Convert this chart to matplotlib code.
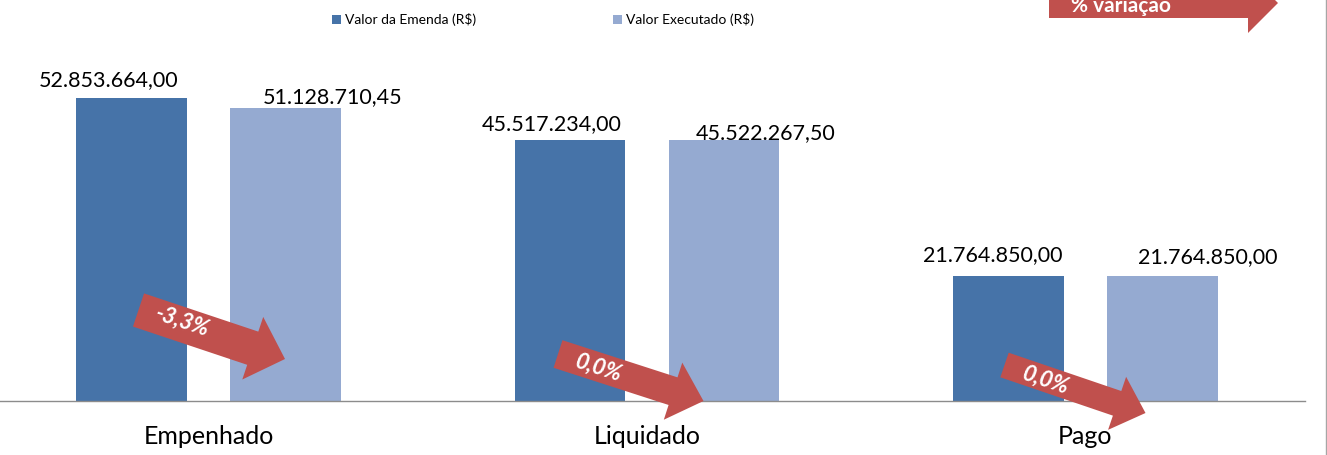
import matplotlib
matplotlib.use("Agg")
import matplotlib.pyplot as plt
from matplotlib.patches import Polygon, Patch
from matplotlib.lines import Line2D
import numpy as np

# ---------------- data ----------------
categories = ["Empenhado", "Liquidado", "Pago"]
valor_emenda = [52853664.00, 45517234.00, 21764850.00]
valor_executado = [51128710.45, 45522267.50, 21764850.00]
variacao_labels = ["-3,3%", "0,0%", "0,0%"]
series_names = ["Valor da Emenda (R$)", "Valor Executado (R$)"]

# ---------------- styles ----------------
W, H = 1327, 455
DARK = "#4673A8"
LIGHT = "#95AAD1"
RED = "#C0504D"
FONT = ["Lato", "DejaVu Sans"]
plt.rcParams["font.family"] = FONT


def fmt_br(v):
    s = f"{v:,.2f}"
    return s.replace(",", "X").replace(".", ",").replace("X", ".")


fig = plt.figure(figsize=(W / 100, H / 100), dpi=100)
ax_left_px, ax_right_px = -10.75, 1304.75
ax_bottom_px = H - 401
ax = fig.add_axes([ax_left_px / W, ax_bottom_px / H,
                   (ax_right_px - ax_left_px) / W, 401 / H])
ax.set_xlim(-0.5, 2.5)
ax.set_ylim(0, 70e6)

x = np.arange(len(categories))
bw = 0.253
off = 0.1756
b1 = ax.bar(x - off, valor_emenda, bw, color=DARK, label=series_names[0])
b2 = ax.bar(x + off, valor_executado, bw, color=LIGHT, label=series_names[1])

for s in ["top", "left", "right"]:
    ax.spines[s].set_visible(False)
ax.spines["bottom"].set_color("#8C8C8C")
ax.spines["bottom"].set_linewidth(1.0)
ax.set_yticks([])
ax.set_xticks(x)
ax.set_xticklabels(categories, fontsize=18, color="black")
ax.tick_params(axis="x", length=0, pad=17)

# value labels (pixel offsets from bar top centre)
dark_off = [(-23, 12), (-18, 10), (-16, 15)]
light_off = [(47, 5), (42, 1), (45, 13)]
for i in range(len(categories)):
    ax.annotate(fmt_br(valor_emenda[i]), (x[i] - off, valor_emenda[i]),
                xytext=dark_off[i], textcoords="offset pixels",
                ha="center", va="baseline", fontsize=15.5)
    ax.annotate(fmt_br(valor_executado[i]), (x[i] + off, valor_executado[i]),
                xytext=light_off[i], textcoords="offset pixels",
                ha="center", va="baseline", fontsize=15.5)

# ---------------- arrows ----------------
def arrow_poly(tail, tip, shaft_w, head_w, head_len):
    tail = np.array(tail, float)
    tip = np.array(tip, float)
    d = tip - tail
    L = np.hypot(*d)
    u = d / L
    n = np.array([-u[1], u[0]])
    base = tip - u * head_len
    pts = [tail + n * shaft_w / 2, base + n * shaft_w / 2, base + n * head_w / 2,
           tip, base - n * head_w / 2, base - n * shaft_w / 2, tail - n * shaft_w / 2]
    return np.array(pts)


# relative to group centre at baseline, in pixels (y up)
arrow_geo = [
    dict(tail=(-70, 91), tip=(76.5, 42), sw=35, hw=66, hl=34, txt=(-25.5, 79)),
    dict(tail=(-89, 47), tip=(56.5, 0), sw=29, hw=60, hl=32, txt=(-48, 33)),
    dict(tail=(-81, 36), tip=(60, -12), sw=26, hw=56, hl=30, txt=(-40, 21)),
]
pix = matplotlib.transforms.IdentityTransform()
for i, g in enumerate(arrow_geo):
    ax_px = ax.transData.transform((x[i], 0))
    tail = ax_px + np.array(g["tail"])
    tip = ax_px + np.array(g["tip"])
    poly = arrow_poly(tail, tip, g["sw"], g["hw"], g["hl"])
    fig.patches.append(Polygon(poly, closed=True, transform=pix,
                               facecolor=RED, edgecolor="none", zorder=5))
    d = tip - tail
    ang = np.degrees(np.arctan2(d[1], d[0]))
    tp = ax_px + np.array(g["txt"])
    fig.text(tp[0] / W, tp[1] / H, variacao_labels[i], color="white",
             fontsize=16, fontweight="bold", fontstyle="italic",
             rotation=ang, rotation_mode="anchor", ha="center", va="center",
             zorder=6)

# top-right "% variação" arrow (partly outside figure)
top_poly = np.array([(1049, 18), (1248, 18), (1248, 33), (1278, 3),
                     (1248, -27), (1248, -12), (1049, -12)], float)
top_poly[:, 1] = H - top_poly[:, 1]
fig.patches.append(Polygon(top_poly, closed=True, transform=pix,
                           facecolor=RED, edgecolor="none", zorder=5))
fig.text(1071 / W, (H - 12) / H, "% variação", color="white", fontsize=15,
         fontweight="bold", ha="left", va="baseline", zorder=6)

# legend
handles = [Patch(facecolor=DARK), Patch(facecolor=LIGHT)]
fig.legend(handles, series_names, loc="center", bbox_to_anchor=(543 / W, 1 - 20 / H),
           ncol=2, frameon=False, fontsize=10, handlelength=0.65, handleheight=0.65,
           handletextpad=0.25, columnspacing=9.9, borderpad=0, borderaxespad=0)

# right border
fig.add_artist(Line2D([1325.5 / W, 1325.5 / W], [0, 1], transform=fig.transFigure,
                      color="#A6A6A6", linewidth=1.0))

fig.savefig("out.png", dpi=100)
